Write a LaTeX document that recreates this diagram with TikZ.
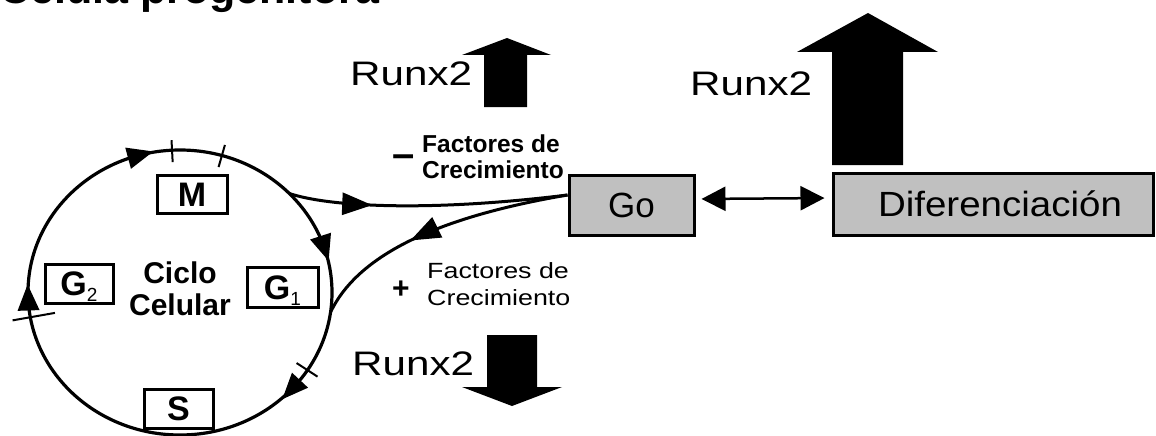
\documentclass[tikz,border=0pt]{standalone}
\usepackage{fontspec}
\setmainfont{Liberation Sans}
\usetikzlibrary{arrows.meta,calc,decorations.markings}
\definecolor{boxgray}{RGB}{192,192,192}
\tikzset{
  boxnode/.style={draw, line width=3pt, fill=boxgray, inner sep=0pt,
    font=\fontsize{35}{40}\selectfont, text height=25pt, text depth=0pt},
  runx/.style={font=\fontsize{34}{40}\selectfont, anchor=base west, inner sep=0pt},
  phase/.style={draw, line width=3pt, inner sep=0pt,
    font=\fontsize{34}{34}\selectfont\bfseries, text height=24pt, text depth=0pt},
  cycleline/.style={line width=3.2pt},
  tickline/.style={line width=2pt},
  conn/.style={line width=3pt},
  midarrow/.style={postaction={decorate},
    decoration={markings, mark=at position #1 with {\arrow{Triangle[length=30pt,width=22pt]}}}},
  cycarrow/.pic={\fill (13pt,0pt) -- (-13pt,11pt) -- (-13pt,-11pt) -- cycle;},
  block/.style={fill=black}
}
\newcommand{\subnum}[1]{\raisebox{-6pt}{\fontsize{19}{19}\selectfont\mdseries #1}}
\begin{document}
\begin{tikzpicture}[x=1pt,y=-1pt]
\useasboundingbox (0,0) rectangle (1156,436);

% title (cut by the top edge)
\node[anchor=base west, inner sep=0pt, font=\fontsize{43}{43}\selectfont\bfseries] (title) at (-1,4) {Celula progenitora};

% cell cycle
\coordinate (c) at (180,292.5);
\draw[cycleline] (c) ellipse [x radius=152pt, y radius=142.5pt];
\foreach \t in {105,18,-43,182}
  \pic[rotate=\t-90] at ($(c)+(\t:152pt and 142.5pt)$) {cycarrow};
\foreach \t/\a/\b in {93/12pt/10pt, 74/12pt/11pt, -33/13pt/12pt, 190/25pt/18pt}
  \draw[tickline] ($(c)+(\t:152pt and 142.5pt)+(\t:-\a)$) -- ($(c)+(\t:152pt and 142.5pt)+(\t:\b)$);

\node[phase, minimum width=70pt, minimum height=38pt] (M) at (192,194) {M};
\node[phase, minimum width=68pt, minimum height=39pt] (G2) at (79,283.5) {G\subnum{2}};
\node[phase, minimum width=71pt, minimum height=40pt] (G1) at (282.5,287) {G\subnum{1}};
\node[phase, minimum width=69pt, minimum height=39pt] (S) at (178.5,408.5) {S};
\node[anchor=base, align=center, inner sep=0pt, font=\fontsize{30}{32}\selectfont\bfseries] (ciclo) at (180,315) {Ciclo\\Celular};

% Go and Diferenciacion
\node[boxnode, minimum width=125pt, minimum height=60pt] (go) at (631.5,205) {Go};
\node[boxnode, minimum width=320pt, minimum height=62pt] (dif) at (993,204) {\hspace{14pt}\scalebox{1.1}[1]{Diferenciación}};
\draw[conn, line width=2.5pt, {Triangle[length=24pt,width=24pt]}-{Triangle[length=24pt,width=24pt]}, shorten <=6pt, shorten >=7pt]
  ([yshift=6pt]go.east) -- ([yshift=6pt]dif.west);

% curves between cycle and Go
\coordinate (s1) at ($(c)+(44:152pt and 142.5pt)$);
\coordinate (e2) at ($(c)+(-8:152pt and 142.5pt)$);
\coordinate (gin) at ([yshift=10pt]go.west);
\draw[conn, midarrow=0.3] (s1) .. controls (330,207) and (430,212) .. (gin);
\draw[conn, midarrow=0.6] (gin) .. controls (450,215) and (360,250) .. (e2);

% growth factor labels
\node[anchor=base, inner sep=0pt, font=\fontsize{40}{40}\selectfont\bfseries] (minus) at (404,167) {–};
\node[anchor=base west, align=left, inner sep=0pt, font=\fontsize{24.5}{26}\selectfont\bfseries] (fneg) at (422,178) {Factores de\\Crecimiento};
\node[anchor=base, inner sep=0pt, font=\fontsize{30}{30}\selectfont\bfseries] (plus) at (401,298) {+};
\node[anchor=base west, align=left, inner sep=0pt, font=\fontsize{22}{27}\selectfont] (fpos) at (427,305) {\scalebox{1.22}[1]{Factores de}\\\scalebox{1.22}[1]{Crecimiento}};

% Runx2 labels and block arrows
\node[runx] (r1) at (350,85) {\scalebox{1.24}[1]{Runx2}};
\node[runx] (r2) at (690,95) {\scalebox{1.24}[1]{Runx2}};
\node[runx] (r3) at (352,375) {\scalebox{1.24}[1]{Runx2}};

\fill[block] (484,107) -- (484,55) -- (462,55) -- (507,38) -- (551,55) -- (527,55) -- (527,107) -- cycle;
\fill[block] (487,335) -- (487,387) -- (462,387) -- (512,406) -- (562,387) -- (537,387) -- (537,335) -- cycle;
\fill[block] (832,165) -- (832,52) -- (797,52) -- (868,13) -- (938,52) -- (903,52) -- (903,165) -- cycle;
\end{tikzpicture}
\end{document}
